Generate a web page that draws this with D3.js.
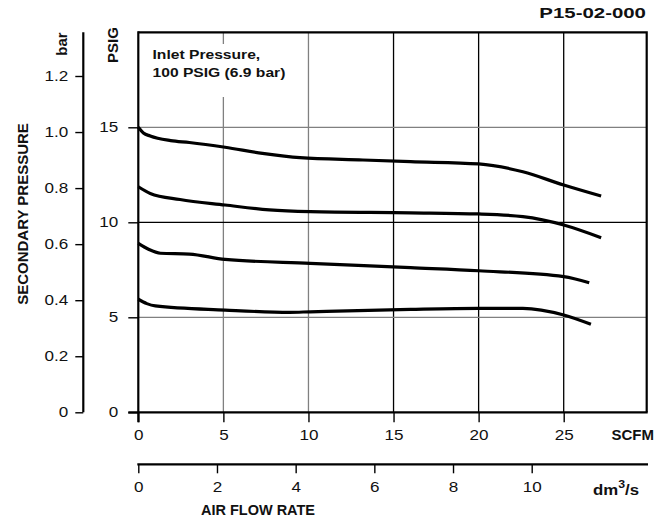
<!DOCTYPE html>
<html>
<head>
<meta charset="utf-8">
<script src="https://cdn.jsdelivr.net/npm/d3@7"></script>
<style>
	body { margin: 0; background: #fff; }
	svg { font-family: "Liberation Sans", Arial, sans-serif; }
</style>
</head>
<body>
<svg id="chart" width="667" height="524"></svg>
<script>
// axis ticks
var scfmTicks = [0, 5, 10, 15, 20, 25];
var dmTicks = [0, 2, 4, 6, 8, 10];
var psigTicks = [0, 5, 10, 15];
var barTicks = [0, 0.2, 0.4, 0.6, 0.8, 1.0, 1.2];
var barLabels = ["0", "0.2", "0.4", "0.6", "0.8", "1.0", "1.2"];

// regulation curves, [SCFM, PSIG]
var curve15 = [[0, 15.0], [0.3, 14.7], [0.7, 14.54], [1.9, 14.3], [3.0, 14.2],
	[5.1, 13.95], [7.3, 13.63], [9.5, 13.4], [13.2, 13.28], [16, 13.19],
	[20, 13.07], [22.6, 12.66], [25, 11.96], [27.2, 11.38]];
var curve12 = [[0, 11.87], [0.7, 11.52], [2.45, 11.2], [5.1, 10.91], [7.7, 10.65],
	[10.1, 10.56], [16, 10.5], [20, 10.44], [22.6, 10.3], [25, 9.86], [27.2, 9.19]];
var curve9 = [[0, 8.89], [0.6, 8.58], [1.3, 8.37], [3.0, 8.33], [5.1, 8.05],
	[10.1, 7.84], [16, 7.61], [20, 7.45], [25, 7.14], [26.5, 6.82]];
var curve6 = [[0, 5.95], [0.5, 5.72], [1.0, 5.6], [5.1, 5.38], [8.9, 5.26],
	[10.1, 5.29], [16, 5.42], [20, 5.47], [22.6, 5.47], [25, 5.12], [26.6, 4.63]];
var curves = [curve15, curve12, curve9, curve6];

var svg = d3.select("#chart");

var plotLeft = 138.3, plotRight = 646.7, plotTop = 32.3, plotBottom = 412.3;

var x = d3.scaleLinear().domain([0, 25]).range([plotLeft, 563.7]);
var xDm = d3.scaleLinear().domain([0, 10]).range([plotLeft, 531.7]);
var y = d3.scaleLinear().domain([0, 15]).range([plotBottom, 127.3]);
var yBar = d3.scaleLinear().domain([0, 1.2]).range([plotBottom, 76]);

// stretch text sideways, the drawing's lettering is wider than Arial
function stretch(sel, k) {
	sel.each(function() {
		var len = this.getComputedTextLength();
		d3.select(this)
			.attr("textLength", len * k)
			.attr("lengthAdjust", "spacingAndGlyphs");
	});
	return sel;
}

// grid
var vGrid = [5, 10, 15, 20, 25];
svg.append("g").selectAll("line")
	.data(vGrid)
	.enter()
	.append("line")
	.attr("x1", function(d) { return x(d); })
	.attr("x2", function(d) { return x(d); })
	.attr("y1", plotTop)
	.attr("y2", plotBottom)
	.attr("stroke", function(d) { return d < 15 ? "#808080" : "#000"; })
	.attr("stroke-width", 1.3);

svg.append("g").selectAll("line")
	.data([5, 10, 15])
	.enter()
	.append("line")
	.attr("x1", plotLeft)
	.attr("x2", plotRight)
	.attr("y1", function(d) { return y(d); })
	.attr("y2", function(d) { return y(d); })
	.attr("stroke", function(d) { return d == 10 ? "#000" : "#808080"; })
	.attr("stroke-width", 1.3);

// note box (hides the grid line behind it)
svg.append("rect")
	.attr("x", 148).attr("y", 44)
	.attr("width", 150).attr("height", 53)
	.attr("fill", "#fff");
var noteLines = ["Inlet Pressure,", "100 PSIG (6.9 bar)"];
svg.append("g").selectAll("text")
	.data(noteLines)
	.enter()
	.append("text")
	.attr("x", 152.5)
	.attr("y", function(d, i) { return 59 + i * 18; })
	.attr("font-weight", "bold")
	.attr("font-size", 12.5)
	.attr("fill", "#111")
	.text(function(d) { return d; })
	.call(stretch, 1.25);

// frame
svg.append("path")
	.attr("d", "M" + plotLeft + "," + plotTop + "H" + plotRight + "V" + plotBottom)
	.attr("fill", "none")
	.attr("stroke", "#000")
	.attr("stroke-width", 2.2);
svg.append("line")
	.attr("x1", plotLeft).attr("x2", plotLeft)
	.attr("y1", plotTop - 1).attr("y2", plotBottom + 10)
	.attr("stroke", "#000").attr("stroke-width", 2.2);
svg.append("line")
	.attr("x1", plotLeft - 10).attr("x2", plotRight + 1)
	.attr("y1", plotBottom).attr("y2", plotBottom)
	.attr("stroke", "#000").attr("stroke-width", 2.2);

// curves
var line = d3.line()
	.x(function(d) { return x(d[0]); })
	.y(function(d) { return y(d[1]); })
	.curve(d3.curveMonotoneX);

svg.append("g").selectAll("path")
	.data(curves)
	.enter()
	.append("path")
	.attr("d", line)
	.attr("fill", "none")
	.attr("stroke", "#000")
	.attr("stroke-width", 3.2)
	.attr("stroke-linecap", "butt");

// PSIG axis
var psigAxis = svg.append("g")
	.attr("transform", "translate(" + plotLeft + ",0)")
	.call(d3.axisLeft(y).tickValues(psigTicks).tickSize(10).tickPadding(10));
psigAxis.select(".domain").remove();

// bar axis
var barX = 83.3;
svg.append("line")
	.attr("x1", barX).attr("x2", barX)
	.attr("y1", plotTop).attr("y2", plotBottom)
	.attr("stroke", "#000").attr("stroke-width", 2.2);
var barAxis = svg.append("g")
	.attr("transform", "translate(" + barX + ",0)")
	.call(d3.axisLeft(yBar).tickValues(barTicks).tickSize(8).tickPadding(7)
		.tickFormat(function(d, i) { return barLabels[i]; }));
barAxis.select(".domain").remove();

// SCFM axis
var scfmAxis = svg.append("g")
	.attr("transform", "translate(0," + plotBottom + ")")
	.call(d3.axisBottom(x).tickValues(scfmTicks).tickSize(10).tickPadding(8));
scfmAxis.select(".domain").remove();

// dm3/s axis
var dmY = 464.3;
svg.append("line")
	.attr("x1", plotLeft - 1).attr("x2", 648)
	.attr("y1", dmY).attr("y2", dmY)
	.attr("stroke", "#000").attr("stroke-width", 2.2);
var dmAxis = svg.append("g")
	.attr("transform", "translate(0," + dmY + ")")
	.call(d3.axisBottom(xDm).tickValues(dmTicks).tickSize(9).tickPadding(9));
dmAxis.select(".domain").remove();

svg.selectAll(".tick line").attr("stroke", "#000").attr("stroke-width", 1.4);
svg.selectAll(".tick text")
	.attr("font-family", "Liberation Sans, Arial, sans-serif")
	.attr("font-size", 14)
	.attr("fill", "#111")
	.call(stretch, 1.22);

// titles
function bold(t, size) {
	return svg.append("text")
		.attr("font-weight", "bold")
		.attr("font-size", size)
		.attr("fill", "#111")
		.text(t);
}
bold("P15-02-000", 15).attr("x", 646).attr("y", 18).attr("text-anchor", "end")
	.call(stretch, 1.36);
bold("SCFM", 15).attr("x", 611.5).attr("y", 440);
var dm = bold("dm", 15).attr("x", 593).attr("y", 495);
dm.append("tspan").attr("font-size", 11).attr("dy", -7).text("3");
dm.append("tspan").attr("dy", 7).text("/s");
dm.call(stretch, 1.12);
bold("AIR FLOW RATE", 14.5).attr("x", 258).attr("y", 515).attr("text-anchor", "middle");
bold("SECONDARY PRESSURE", 15)
	.attr("text-anchor", "middle")
	.attr("transform", "translate(27.5,214) rotate(-90)");
bold("bar", 15)
	.attr("text-anchor", "middle")
	.attr("transform", "translate(67,44) rotate(-90)");
bold("PSIG", 15)
	.attr("text-anchor", "middle")
	.attr("transform", "translate(118,45) rotate(-90)");
</script>
</body>
</html>
